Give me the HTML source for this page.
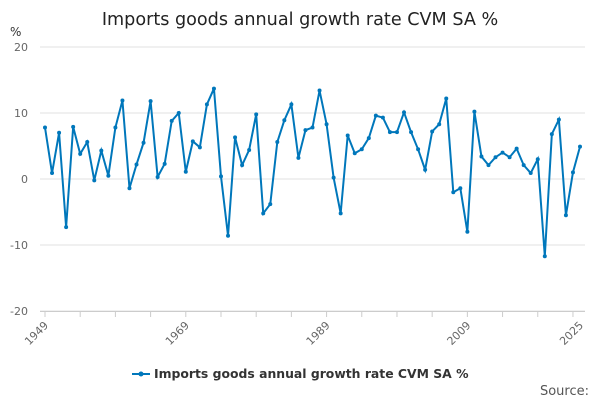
<!DOCTYPE html>
<html><head><meta charset="utf-8"><style>
body{margin:0;background:#fff;font-family:"DejaVu Sans",sans-serif}
svg text{font-family:"DejaVu Sans",sans-serif}
</style></head><body>
<svg width="600" height="400" xmlns="http://www.w3.org/2000/svg">
<text x="300" y="25" text-anchor="middle" font-size="17.6" fill="#222">Imports goods annual growth rate CVM SA %</text>
<text x="10" y="36" font-size="12" fill="#333">%</text>
<g id="grid"></g><g id="axes"></g><g id="series"></g>
<g>
<line x1="132" y1="374" x2="150" y2="374" stroke="#0077bb" stroke-width="2"/>
<circle cx="141" cy="374" r="2.5" fill="#0077bb"/>
<text x="154" y="378" font-size="12.4" font-weight="bold" fill="#333">Imports goods annual growth rate CVM SA %</text>
</g>
<text x="589" y="395" text-anchor="end" font-size="13" fill="#555">Source:</text>
</svg>
<script>
const years=[];for(let y=1949;y<=2025;y++)years.push(y);
const values=[7.8,0.9,7.0,-7.3,7.9,3.8,5.6,-0.2,4.3,0.5,7.8,11.9,-1.4,2.2,5.5,11.8,0.3,2.3,8.8,10.0,1.1,5.7,4.8,11.3,13.7,0.4,-8.6,6.3,2.1,4.4,9.8,-5.2,-3.8,5.6,8.9,11.3,3.2,7.4,7.8,13.4,8.3,0.2,-5.2,6.6,3.9,4.5,6.2,9.6,9.3,7.1,7.1,10.1,7.1,4.5,1.4,7.2,8.3,12.2,-2.0,-1.4,-8.0,10.2,3.4,2.1,3.3,4.0,3.3,4.6,2.1,0.9,3.0,-11.7,6.8,9.0,-5.5,1.0,4.9];
const yTicks=[20,10,0,-10,-20];
const xLabels=[1949,1969,1989,2009,2025];
const ns="http://www.w3.org/2000/svg";
const X=y=>45+(y-1949)*(535/76);
const Y=v=>179-v*6.6;
function mk(t,a,p){const e=document.createElementNS(ns,t);for(const k in a)e.setAttribute(k,a[k]);p.appendChild(e);return e;}
const grid=document.getElementById('grid'),axes=document.getElementById('axes'),ser=document.getElementById('series');
yTicks.forEach(v=>{
 const l=mk('line',{x1:40,x2:585,y1:Y(v),y2:Y(v),stroke:'#e0e0e0'},grid);
 
 
 const t=mk('text',{x:28,y:Y(v)+4,'text-anchor':'end','font-size':11,fill:'#666'},axes);
 t.textContent=v;
 
 
});
const ax=mk('line',{x1:40,x2:585,y1:Y(-20)+0.5,y2:Y(-20)+0.5,stroke:'#ccc'},axes);


for(let y=1949;y<=2025;y+=5){const tk=mk('line',{x1:X(y),x2:X(y),y1:312,y2:317,stroke:'#ccc'},axes);
 
 }
xLabels.forEach(y=>{
 const t=mk('text',{x:X(y)+4,y:326,'text-anchor':'end','font-size':11,fill:'#666',transform:`rotate(-45 ${X(y)+4} 326)`},axes);
 t.textContent=y;
 
 
});
const p=mk('polyline',{points:values.map((v,i)=>X(years[i])+','+Y(v)).join(' '),fill:'none',stroke:'#0077bb','stroke-width':2},ser);


values.forEach((v,i)=>{const c=mk('circle',{cx:X(years[i]),cy:Y(v),r:2,fill:'#0077bb'},ser);
 
 });
</script>
</body></html>
